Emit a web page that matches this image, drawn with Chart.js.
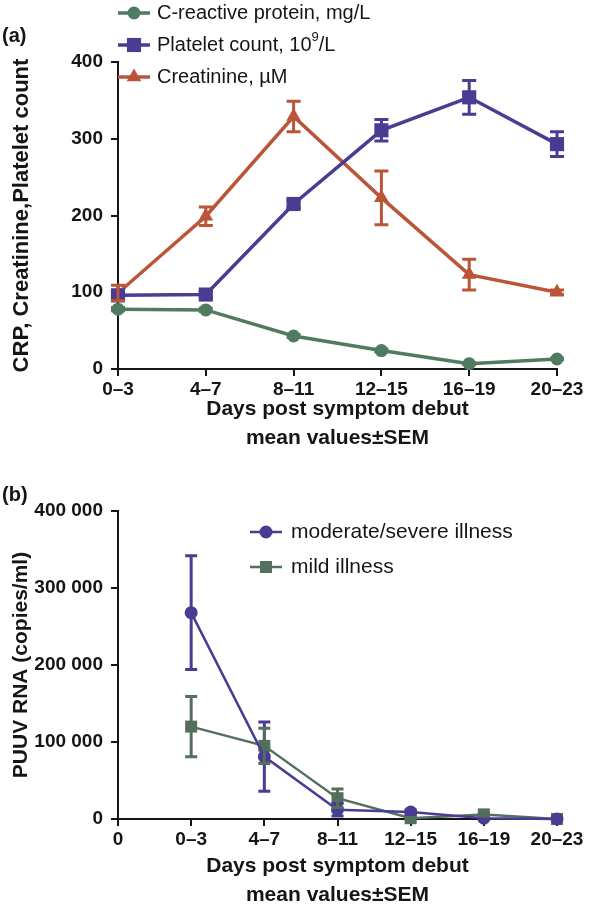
<!DOCTYPE html>
<html>
<head>
<meta charset="utf-8">
<script src="https://cdn.jsdelivr.net/npm/chart.js@4.4.1/dist/chart.umd.min.js"></script>
<style>
  html, body { margin: 0; padding: 0; background: #fff; }
  #wrap { position: relative; width: 609px; height: 912px; }
  canvas { position: absolute; left: 0; }
  #grafico-a { top: 0; }
  #grafico-b { top: 480px; }
</style>
</head>
<body>
<div id="wrap">
  <canvas id="grafico-a" width="609" height="480"></canvas>
  <canvas id="grafico-b" width="609" height="432"></canvas>
</div>
<script>
// Datos del panel (a)
const diasA = ['0–3', '4–7', '8–11', '12–15', '16–19', '20–23'];
const crp = [78, 77, 43, 24, 7, 13];
const crpSem = [2, 2, 2, 2, 1, 1];
const plaquetas = [96, 97, 215, 311, 354, 293];
const plaquetasSem = [6, 4, 5, 14, 22, 16];
const creatinina = [99, 199, 329, 223, 123, 100];
const creatininaSem = [10, 12, 20, 35, 20, 3];
const ticksA = [0, 100, 200, 300, 400];

// Datos del panel (b)
const diasB = ['0', '0–3', '4–7', '8–11', '12–15', '16–19', '20–23'];
const grave = [null, 268000, 81000, 12000, 9000, 1000, 0];
const graveSem = [null, 74000, 45000, 8000, 3000, 1000, 0];
const leve = [null, 120000, 95000, 27000, 1000, 6000, 0];
const leveSem = [null, 39000, 23000, 12000, 1000, 2000, 0];
const ticksB = [0, 100000, 200000, 300000, 400000];

const fuente = "'Liberation Sans', Arial, Helvetica, sans-serif";
const negro = '#151515';
Chart.defaults.font.family = fuente;
Chart.defaults.color = negro;

// Barras de error (media ± SEM)
const barrasError = {
  id: 'barrasError',
  afterDatasetsDraw(chart, args, opts) {
    const ctx = chart.ctx;
    const y = chart.scales.y;
    chart.data.datasets.forEach((ds, i) => {
      if (!ds.sem) return;
      const meta = chart.getDatasetMeta(i);
      ctx.save();
      ctx.strokeStyle = ds.borderColor;
      ctx.lineWidth = opts.grosor;
      meta.data.forEach((pt, j) => {
        const v = ds.data[j];
        const e = ds.sem[j];
        if (v == null || !e) return;
        const arriba = y.getPixelForValue(v + e);
        const abajo = y.getPixelForValue(Math.max(0, v - e));
        ctx.beginPath();
        ctx.moveTo(pt.x, arriba); ctx.lineTo(pt.x, abajo);
        ctx.moveTo(pt.x - opts.tapa, arriba); ctx.lineTo(pt.x + opts.tapa, arriba);
        ctx.moveTo(pt.x - opts.tapa, abajo); ctx.lineTo(pt.x + opts.tapa, abajo);
        ctx.stroke();
      });
      ctx.restore();
    });
  }
};

// Leyenda vertical propia (texto con superíndice entre llaves)
const leyenda = {
  id: 'leyenda',
  afterDraw(chart, args, opts) {
    const ctx = chart.ctx;
    ctx.save();
    chart.data.datasets.forEach((ds, i) => {
      const y = opts.y0 + i * opts.dy;
      const x = opts.x0;
      ctx.strokeStyle = ds.borderColor;
      ctx.lineWidth = ds.borderWidth;
      ctx.beginPath();
      ctx.moveTo(x, y);
      ctx.lineTo(x + opts.largo, y);
      ctx.stroke();
      ctx.fillStyle = ds.backgroundColor;
      Chart.helpers.drawPoint(ctx, {
        pointStyle: ds.pointStyle, radius: ds.pointRadius, rotation: 0, borderWidth: 0
      }, x + opts.largo / 2, y);

      ctx.fillStyle = negro;
      ctx.textBaseline = 'middle';
      let tx = x + opts.largo + opts.hueco;
      ds.label.split(/[{}]/).forEach((trozo, k) => {
        if (k % 2 === 1) {
          ctx.font = `${Math.round(opts.tam * 0.65)}px ${fuente}`;
          ctx.fillText(trozo, tx, y - opts.tam * 0.38);
        } else {
          ctx.font = `${opts.tam}px ${fuente}`;
          ctx.fillText(trozo, tx, y);
        }
        tx += ctx.measureText(trozo).width;
      });
    });
    ctx.restore();
  }
};

// Etiqueta del panel, (a) o (b)
const etiquetaPanel = {
  id: 'etiquetaPanel',
  afterDraw(chart, args, opts) {
    const ctx = chart.ctx;
    ctx.save();
    ctx.font = `bold 20px ${fuente}`;
    ctx.fillStyle = negro;
    ctx.textBaseline = 'middle';
    ctx.fillText(opts.texto, opts.x, opts.y);
    ctx.restore();
  }
};

function ejeX(titulo, alto, margen) {
  return {
    offset: false,
    grid: { display: true, drawOnChartArea: false, drawTicks: true, tickLength: 7, color: negro, lineWidth: 2 },
    border: { display: true, color: negro, width: 2 },
    ticks: { font: { size: 19, weight: 'bold' }, padding: 2, color: negro, maxRotation: 0, autoSkip: false },
    title: { display: true, text: titulo, color: negro, font: { size: 21, weight: 'bold', lineHeight: 1.4 }, padding: { top: 0, bottom: margen } },
    afterFit: (s) => { s.height = alto; }
  };
}

function ejeY(titulo, tam, max, ticks, formato) {
  return {
    min: 0,
    max: max,
    afterBuildTicks: (s) => { s.ticks = ticks.map(v => ({ value: v })); },
    grid: { display: true, drawOnChartArea: false, drawTicks: true, tickLength: 7, color: negro, lineWidth: 2 },
    border: { display: true, color: negro, width: 2 },
    ticks: { font: { size: 19, weight: 'bold' }, padding: 8, color: negro, callback: formato },
    title: { display: true, text: titulo, color: negro, font: { size: tam, weight: 'bold' }, padding: { top: 9, bottom: 0 } },
    afterFit: (s) => { s.width = 118; }
  };
}

function serie(label, data, sem, color, estilo, radio, grosor) {
  return {
    label: label, data: data, sem: sem,
    borderColor: color, backgroundColor: color,
    pointStyle: estilo, pointRadius: radio, pointHoverRadius: radio,
    pointBorderWidth: 0, borderWidth: grosor,
    tension: 0, clip: false, spanGaps: false
  };
}

// Panel (a)
new Chart(document.getElementById('grafico-a'), {
  type: 'line',
  data: {
    labels: diasA,
    datasets: [
      serie('C-reactive protein, mg/L', crp, crpSem, '#4f7b60', 'circle', 6.5, 3.5),
      serie('Platelet count, 10{9}/L', plaquetas, plaquetasSem, '#4a3b93', 'rect', 10, 3.5),
      serie('Creatinine, µM', creatinina, creatininaSem, '#bb5538', 'triangle', 8.5, 3.5)
    ]
  },
  options: {
    responsive: false, animation: false, devicePixelRatio: 1,
    layout: { padding: { top: 62, right: 52, left: 0, bottom: 0 } },
    plugins: {
      legend: { display: false },
      tooltip: { enabled: false },
      barrasError: { grosor: 3, tapa: 7 },
      leyenda: { x0: 118, y0: 13, dy: 32, largo: 32, hueco: 7, tam: 20 },
      etiquetaPanel: { texto: '(a)', x: 2, y: 36 }
    },
    scales: {
      x: ejeX(['Days post symptom debut', 'mean values±SEM'], 111, 27),
      y: ejeY('CRP, Creatinine,Platelet count', 22, 400, ticksA)
    }
  },
  plugins: [barrasError, leyenda, etiquetaPanel]
});

// Panel (b)
new Chart(document.getElementById('grafico-b'), {
  type: 'line',
  data: {
    labels: diasB,
    datasets: [
      serie('moderate/severe illness', grave, graveSem, '#4a3b93', 'circle', 6.5, 2.5),
      serie('mild illness', leve, leveSem, '#536f5d', 'rect', 8.5, 2.5)
    ]
  },
  options: {
    responsive: false, animation: false, devicePixelRatio: 1,
    layout: { padding: { top: 31, right: 52, left: 0, bottom: 0 } },
    plugins: {
      legend: { display: false },
      tooltip: { enabled: false },
      barrasError: { grosor: 3, tapa: 6 },
      leyenda: { x0: 250, y0: 52, dy: 35, largo: 32, hueco: 9, tam: 21 },
      etiquetaPanel: { texto: '(b)', x: 2, y: 15 }
    },
    scales: {
      x: ejeX(['Days post symptom debut', 'mean values±SEM'], 93, 2),
      y: ejeY('PUUV RNA (copies/ml)', 21, 400000, ticksB,
        (v) => v === 0 ? '0' : String(v).replace(/\B(?=(\d{3})+(?!\d))/g, ' '))
    }
  },
  plugins: [barrasError, leyenda, etiquetaPanel]
});
</script>
</body>
</html>
